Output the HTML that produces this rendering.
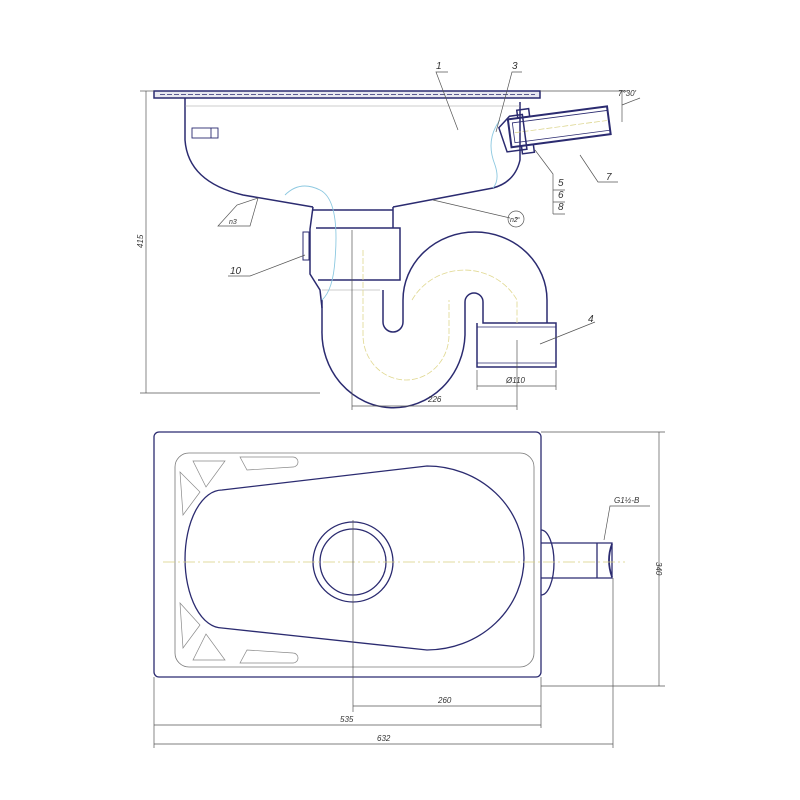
<!DOCTYPE html>
<html><head><meta charset="utf-8"><style>html,body{margin:0;padding:0;background:#fff}svg{display:block}text{font-family:"Liberation Sans",sans-serif;font-style:italic;fill:#333}</style></head>
<body>
<svg width="800" height="800" viewBox="0 0 800 800" xmlns="http://www.w3.org/2000/svg">
<g fill="none" stroke="#2b2b70" stroke-width="1.5">
<!-- rim -->
<rect x="154" y="91" width="386" height="7" fill="#e8e8f0"/>
<line x1="160" y1="94.5" x2="535" y2="94.5" stroke-dasharray="5 2" stroke-width="0.8"/>
<!-- bowl -->
<path d="M185 98 V140 Q188 182 243 195 L313 207 M520 102 V160 Q515 182 493 188 L393 207"/>
<line x1="185" y1="106" x2="520" y2="106" stroke="#999" stroke-width="0.6"/>
<rect x="192" y="128" width="26" height="10" stroke-width="0.9"/><line x1="211" y1="128" x2="211" y2="138" stroke-width="0.9"/>
<!-- neck -->
<path d="M313 207 L310 229 V274 L320 290 L322 308 M393 207 V228 M313 210 H393 M316 228 H400 V280 H318"/>
<line x1="345" y1="210" x2="393" y2="210" stroke-dasharray="4 2" stroke-width="0.7"/>
<rect x="303" y="232" width="6" height="28" stroke-width="1"/>
<line x1="322" y1="290" x2="380" y2="290" stroke="#999" stroke-width="0.6"/>
<!-- trap -->
<path d="M322 300 V330 A57 60 0 0 0 465 335 V302 A9 9 0 0 1 483 302 V323 H556 V367 H477 V323"/>
<path d="M383 290 V322 A10 10 0 0 0 403 322 V300 A72 68 0 0 1 547 300 V323"/>
<path d="M363 250 V335 A43 45 0 0 0 449 335 V300 M412 300 A60 58 0 0 1 517 300 V323" stroke="#e0d890" stroke-width="0.8" stroke-dasharray="6 2"/>
<line x1="477" y1="327" x2="556" y2="327" stroke-width="0.8"/>
<line x1="477" y1="363" x2="556" y2="363" stroke-width="0.8"/>
<!-- outlet pipe 7 -->
<g transform="rotate(-7.5 520 135)">
<rect x="510" y="118" width="100" height="28" stroke-width="2"/>
<rect x="514" y="122" width="96" height="20" stroke-width="0.8"/>
<line x1="515" y1="132" x2="608" y2="132" stroke="#d8d080" stroke-dasharray="6 2" stroke-width="0.7"/>
<path d="M500 125 L512 115 H525 V150 H505 Z"/>
<rect x="520" y="110" width="12" height="8"/><rect x="520" y="146" width="12" height="8"/>
</g>
<path d="M500 120 Q485 140 495 165 Q500 180 493 188 M285 195 Q300 180 320 190 Q340 200 335 260 Q333 290 322 300" stroke="#8cc8e0" stroke-width="0.9"/>
</g>
<!-- leaders top -->
<g stroke="#555" stroke-width="0.7" fill="none">
<line x1="146" y1="91" x2="146" y2="393"/><line x1="140" y1="393" x2="320" y2="393"/><line x1="140" y1="91" x2="154" y2="91"/>
<line x1="352" y1="230" x2="352" y2="410"/><line x1="517" y1="340" x2="517" y2="410"/><line x1="352" y1="406" x2="517" y2="406"/>
<line x1="477" y1="370" x2="477" y2="390"/><line x1="556" y1="370" x2="556" y2="390"/><line x1="477" y1="386" x2="556" y2="386"/>
<line x1="540" y1="91" x2="628" y2="91"/><line x1="622" y1="91" x2="622" y2="122"/><line x1="622" y1="105" x2="640" y2="98"/>
<path d="M458 130 L436 72 H448 M496 132 L512 72 H522 M535 150 L553 174 V214 M553 190 H565 M553 202 H565 M553 214 H565 M580 155 L598 182 H618 M258 198 L250 226 H218 L237 205 Z M433 200 L510 218 M305 255 L250 276 H228 M540 344 L595 322 M515 218 H520"/>
<circle cx="516" cy="219" r="8"/>
</g>
<g font-size="10">
<text x="436" y="69">1</text><text x="512" y="69">3</text><text x="558" y="186">5</text><text x="558" y="198">6</text><text x="558" y="210">8</text><text x="606" y="180">7</text><text x="588" y="322">4</text><text x="230" y="274">10</text>
<text x="618" y="96" font-size="8">7°30'</text><text x="428" y="402" font-size="8">226</text><text x="506" y="383" font-size="8">Ø110</text><text x="510" y="222" font-size="7">n2</text><text x="229" y="224" font-size="7">n3</text>
<text x="143" y="248" font-size="8" transform="rotate(-90 143 248)">415</text>
</g>
<!-- plan view -->
<g fill="none" stroke="#2b2b70" stroke-width="1.3">
<rect x="154" y="432" width="387" height="245" rx="5"/>
<rect x="175" y="453" width="359" height="214" rx="14" stroke="#777" stroke-width="0.8"/>
<path d="M222 490 L427 466 A97 92 0 0 1 427 650 L222 628 A37 69 0 0 1 222 490 Z"/>
<circle cx="353" cy="562" r="40"/><circle cx="353" cy="562" r="33"/>
<path d="M541 543 H612 V578 H541 M541 530 A12 30 0 0 1 541 595 M597 543 V578" />
<path d="M612 544 Q606 560 612 577" stroke-width="1.8"/>
<g stroke="#888" stroke-width="0.7">
<path d="M193 461 H225 L206 487 Z M180 472 L200 492 L183 515 Z M240 457 H293 A5 5 0 0 1 293 467 L247 470 Z M180 603 L200 625 L183 648 Z M193 660 H225 L206 634 Z M240 663 H293 A5 5 0 0 0 293 653 L247 650 Z"/>
</g>
</g>
<g stroke="#555" stroke-width="0.7" fill="none">
<line x1="163" y1="562" x2="625" y2="562" stroke="#d8d080" stroke-dasharray="12 3 2 3"/>
<line x1="353" y1="520" x2="353" y2="712"/>
<line x1="541" y1="432" x2="665" y2="432"/><line x1="541" y1="686" x2="665" y2="686"/><line x1="659" y1="432" x2="659" y2="686"/>
<line x1="353" y1="706" x2="541" y2="706"/><line x1="541" y1="677" x2="541" y2="728"/>
<line x1="154" y1="677" x2="154" y2="748"/><line x1="154" y1="725" x2="541" y2="725"/>
<line x1="613" y1="578" x2="613" y2="748"/><line x1="154" y1="744" x2="613" y2="744"/>
<path d="M604 540 L610 506 H650"/>
</g>
<g font-size="8">
<text x="438" y="703">260</text><text x="340" y="722">535</text><text x="377" y="741">632</text><text x="614" y="503">G1½-B</text>
<text x="656" y="562" transform="rotate(90 656 562)">340</text>
</g>
</svg>
</body></html>
